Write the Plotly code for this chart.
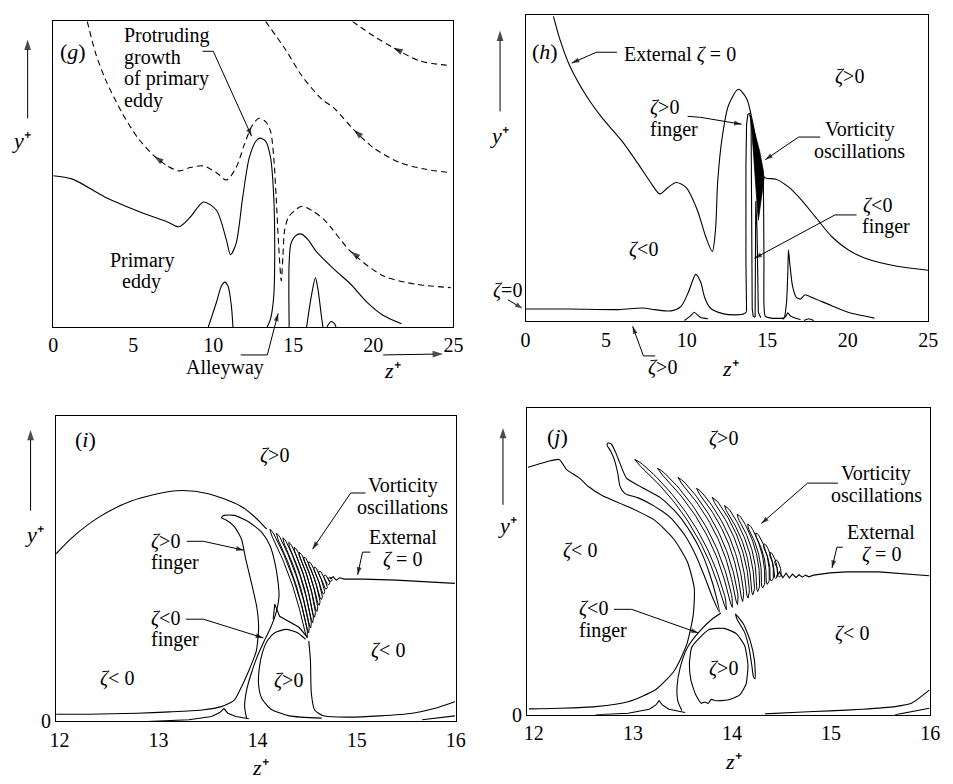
import numpy as np
import plotly.graph_objects as go

W, H = 953, 784
FONT = "Liberation Serif, Times New Roman, serif"

# ================= DATA (z+ horizontal, y+ in arbitrary 0-100 units) =================
# ---- panel (g)
g_eddy_z = [0, 1.21, 3.25, 5.71, 7.14, 7.85, 8.57, 9.39, 10.2, 10.82, 11.08, 11.43, 11.84, 12.25, 12.66, 12.9, 13.27, 13.58, 13.78, 13.84, 13.78, 13.58, 13.37]
g_eddy_y = [49.5, 48.4, 42.5, 37.1, 34.4, 32.8, 36.0, 40.9, 38.2, 28.5, 23.7, 27.4, 42.5, 55.4, 60.8, 61.8, 60.8, 55.4, 42.5, 26.3, 10.2, 2.7, 0]
g_bump_z = [14.74, 14.74, 14.86, 15.21, 15.52, 15.93, 16.44, 17.57, 18.59, 19.61, 20.63, 21.76]
g_bump_y = [0, 21.0, 27.4, 30.1, 30.4, 28.5, 24.7, 18.8, 14.0, 8.1, 3.8, 1.1]
g_peak1_z = [9.69, 10.2, 10.51, 10.72, 10.92, 11.13, 11.23]
g_peak1_y = [0, 8.1, 13.4, 14.7, 13.4, 7.0, 0]
g_peak2_z = [15.83, 16.13, 16.38, 16.54, 16.75, 16.85]
g_peak2_y = [0, 10.2, 16.1, 12.4, 3.8, 0]
g_small_z = [17.1, 17.36, 17.57, 17.67]
g_small_y = [0, 1.8, 1.1, 0]
g_dash1_z = [2.13, 2.64, 3.25, 4.27, 5.3, 6.32, 7.14, 7.85, 8.57, 9.39, 10.2, 10.82, 11.43, 11.94, 12.45, 12.86, 13.27, 13.58, 13.78, 13.93,
             14.09, 14.25, 14.35, 14.46, 14.7, 15.11, 15.52, 16.13, 16.95, 18.59, 20.63, 22.68, 24.83]
g_dash1_y = [100, 89.8, 81.2, 70.4, 61.8, 55.9, 52.7, 51.1, 52.2, 52.7, 50.5, 48.1, 52.2, 59.7, 66.1, 68.3, 67.2, 64.0, 55.4, 42.5,
             26.3, 15.1, 23.1, 31.7, 36.0, 38.2, 39.5, 38.2, 35.0, 24.7, 16.7, 14.0, 12.9]
g_dash2_z = [13.27, 14.5, 15.52, 16.75, 17.57, 18.79, 20.02, 21.66, 23.29, 24.83]
g_dash2_y = [100, 90.9, 82.3, 74.7, 71.5, 64.5, 58.6, 53.8, 51.6, 50.5]
g_dash3_z = [18.69, 20.02, 21.25, 22.88, 24.83]
g_dash3_y = [100, 95.2, 91.4, 87.1, 85.5]

# ---- panel (h)
h_ext_z = [1.73, 2.13, 2.74, 3.76, 4.78, 6.0, 7.01, 7.83, 8.33, 8.84, 9.35, 9.96, 10.67, 11.18, 11.59, 11.79, 11.93, 12.2, 12.6, 13.21,
           13.72, 14.13, 14.43, 14.74, 14.94, 15.55, 16.36, 16.97, 17.99, 19.0, 20.02, 21.04, 23.07, 25.0]
h_ext_y = [99.5, 92.0, 83.4, 73.7, 66.2, 58.7, 51.2, 44.8, 41.6, 43.7, 45.3, 43.7, 36.2, 27.7, 22.8, 29.8, 45.9, 59.8, 70.5, 75.7,
           72.7, 64.1, 55.5, 47.5, 46.7, 46.4, 43.7, 40.5, 34.1, 27.7, 23.4, 20.7, 18.0, 16.7]
h_side_z = [14.76, 14.78, 14.8, 14.8, 14.88, 15.24, 15.96, 16.06, 16.2, 16.28, 16.32, 16.4, 16.57, 16.81, 17.07, 17.34, 17.78, 19.0, 20.02, 21.65]
h_side_y = [46.95, 35.16, 19.08, 5.14, 1.71, 1.07, 1.07, 1.29, 6.22, 15.86, 23.37, 19.08, 11.58, 7.82, 7.29, 8.68, 7.82, 5.14, 3.0, 1.07]
h_low_z = [0, 2.74, 5.79, 7.22, 8.03, 9.04, 9.65, 10.1, 10.57, 10.87, 11.12, 11.48, 12.3, 13.11, 13.56, 13.72]
h_low_y = [4.07, 4.07, 3.86, 4.39, 3.86, 3.43, 4.93, 9.43, 15.33, 12.86, 7.82, 4.29, 2.47, 2.14, 2.47, 3.22]
h_fpos_z = [13.72, 13.68, 13.68, 13.72, 13.8, 13.92, 14.0, 14.02, 14.04, 14.07, 14.13, 14.25]
h_fpos_y = [3.22, 19.08, 51.23, 64.1, 67.52, 67.85, 65.17, 51.23, 19.08, 4.07, 1.71, 1.39]
h_fneg_z = [14.25, 14.25, 14.29, 14.37, 14.45, 14.6]
h_fneg_y = [1.39, 29.8, 39.23, 29.8, 3.0, 1.2]
h_osc_z = [13.94, 14.23, 14.53, 14.76, 14.8, 14.7, 14.57, 14.45, 14.37, 14.27, 14.17, 14.05]
h_osc_y = [67.31, 61.95, 55.52, 49.09, 46.41, 42.66, 38.37, 33.01, 38.37, 44.8, 53.38, 61.95]
h_b1_z = [9.86, 10.22, 10.47, 10.71, 10.87, 11.32]
h_b1_y = [0.32, 1.71, 3.0, 1.93, 1.29, 0.86]
h_b2_z = [15.96, 16.16, 16.28, 16.46, 16.77, 17.07]
h_b2_y = [0.64, 1.71, 2.79, 1.71, 1.07, 0.64]
h_b3_z = [17.28, 17.58, 17.89]
h_b3_y = [0.32, 0.86, 0.32]

# ---- panel (i)
i_arc_z = [11.967, 12.131, 12.392, 12.719, 13.176, 13.503, 13.830, 13.961, 14.092]
i_arc_y = [54.84, 60.22, 66.67, 72.04, 75.48, 74.52, 70.43, 67.2, 62.9]
i_fing_z = [11.967, 12.294, 12.784, 13.111, 13.438, 13.634, 13.765, 13.837, 13.912, 13.987, 14.010, 13.993, 13.935, 13.879, 13.837, 13.765, 13.683,
            13.634, 13.660, 13.765, 13.912, 14.042, 14.124, 14.173, 14.206, 14.216, 14.190, 14.131, 14.059, 13.993, 13.935, 13.889, 13.869, 13.889]
i_fing_y = [2.37, 2.37, 2.69, 3.12, 3.76, 4.84, 6.99, 11.29, 16.67, 23.12, 30.65, 37.1, 45.7, 53.23, 59.68, 63.76, 65.91,
            66.67, 67.42, 67.42, 65.27, 61.83, 57.53, 52.15, 45.7, 40.86, 36.02, 30.65, 25.81, 20.97, 15.59, 10.22, 4.84, 1.08]
i_spike_z = [14.157, 14.173, 14.222, 14.320, 14.418, 14.503]
i_spike_y = [33.33, 38.39, 34.41, 32.5, 30.8, 27.5]
i_inner_z = [14.484, 14.402, 14.288, 14.173, 14.101, 14.049, 14.016, 14.010, 14.042, 14.131, 14.320, 14.647]
i_inner_y = [26.88, 29.03, 30.11, 29.03, 26.56, 22.58, 17.2, 11.83, 7.53, 4.09, 1.83, 1.08]
i_right_z = [14.516, 14.533, 14.542, 14.575, 14.663, 14.908, 15.235, 15.562, 15.791, 15.99]
i_right_y = [26.34, 19.89, 9.14, 3.76, 1.83, 1.4, 1.83, 2.69, 4.3, 6.45]
i_cusp_z = [12.882, 13.307, 13.536, 13.618, 13.660, 13.699, 13.781, 13.912]
i_cusp_y = [0, 0.54, 1.61, 2.9, 4.19, 2.69, 1.61, 0.86]
i_corner_z = [15.66, 15.99]
i_corner_y = [0.54, 1.83]
i_ext_z = [14.729, 14.761, 14.794, 14.827, 14.876, 15.072, 15.399, 15.725, 15.99]
i_ext_y = [46.56, 47.31, 46.24, 46.99, 46.56, 46.56, 46.24, 45.7, 45.16]
i_tip_z = [14.124, 14.190, 14.255, 14.314, 14.369, 14.418, 14.467, 14.516, 14.569, 14.621, 14.673, 14.719]
i_tip_y = [62.9, 61.6, 60.1, 58.6, 57.0, 55.4, 53.8, 52.2, 50.5, 49.1, 47.8, 47.0]
i_base_z = [14.500, 14.516, 14.536, 14.556, 14.575, 14.598, 14.621, 14.644, 14.667, 14.693, 14.719, 14.745]
i_base_y = [27.4, 29.0, 30.6, 32.3, 34.1, 36.0, 38.0, 39.9, 41.7, 43.3, 44.8, 45.9]

# ---- panel (j)
j_left_z = [11.941, 12.131, 12.256, 12.289, 12.328, 12.460, 12.558, 12.690, 12.952, 13.215, 13.412, 13.550, 13.619, 13.609, 13.544, 13.419, 13.232, 12.952, 12.624, 12.263, 11.951]
j_left_y = [80.53, 82.35, 83.1, 81.82, 79.89, 77.01, 74.12, 71.34, 67.7, 63.42, 57.22, 49.73, 41.18, 32.62, 22.99, 14.44, 8.24, 4.28, 2.67, 2.14, 1.93]
j_f1_z = [13.872, 13.800, 13.724, 13.635, 13.527, 13.379, 13.215, 13.054, 12.920, 12.870, 12.847, 12.814, 12.775, 12.739, 12.749,
          12.782, 12.828, 12.880, 12.936, 13.084, 13.281, 13.445, 13.583, 13.691, 13.773, 13.836, 13.872]
j_f1_y = [33.48, 38.5, 44.92, 51.87, 58.29, 64.17, 67.91, 70.59, 71.98, 74.33, 78.61, 82.89, 85.88, 87.7, 88.45,
          88.13, 85.24, 80.96, 77.01, 74.12, 70.59, 65.56, 59.36, 52.94, 45.99, 39.04, 33.48]
j_tip_z = [13.018, 13.248, 13.455, 13.642, 13.800, 13.924, 14.053, 14.158, 14.240, 14.319, 14.384, 14.437]
j_tip_y = [83.1, 80.21, 77.22, 73.69, 70.8, 68.13, 65.24, 62.03, 59.14, 55.61, 52.73, 50.27]
j_base_z = [13.944, 14.003, 14.056, 14.108, 14.161, 14.210, 14.259, 14.309, 14.355, 14.397, 14.440, 14.479]
j_base_y = [34.22, 34.97, 35.83, 36.9, 37.97, 39.04, 40.11, 41.28, 42.46, 43.53, 44.39, 44.92]
j_neg_z = [13.888, 13.806, 13.675, 13.550, 13.478, 13.445, 13.455, 13.494]
j_neg_y = [33.16, 31.34, 27.27, 21.93, 15.51, 9.09, 4.28, 1.39]
j_cusp_z = [12.624, 12.952, 13.166, 13.232, 13.264, 13.297, 13.363, 13.478, 13.527]
j_cusp_y = [0, 0.53, 1.82, 3.21, 4.6, 3.21, 1.82, 1.07, 0.75]
j_loop_z = [13.691, 13.635, 13.586, 13.570, 13.593, 13.675, 13.773, 13.921, 14.043, 14.128, 14.161, 14.141, 14.076, 13.954, 13.833, 13.790, 13.760, 13.727, 13.691]
j_loop_y = [3.74, 6.42, 11.23, 16.58, 21.93, 25.13, 27.81, 28.13, 26.42, 22.46, 16.04, 9.95, 6.42, 4.81, 4.6, 5.03, 3.74, 4.17, 3.74]
j_cres_z = [14.036, 14.118, 14.184, 14.227, 14.233, 14.217, 14.200, 14.174, 14.128, 14.053, 14.036]
j_cres_y = [32.83, 29.41, 24.06, 17.65, 11.76, 12.3, 16.04, 21.39, 26.74, 31.02, 32.83]
j_ext_z = [14.447, 14.479, 14.512, 14.545, 14.578, 14.611, 14.644, 14.677, 14.709, 14.742, 14.775, 14.824, 14.989, 15.153, 15.481, 15.81, 15.99]
j_ext_y = [44.92, 46.52, 44.6, 46.1, 44.6, 45.78, 44.71, 45.56, 44.81, 45.45, 44.92, 45.45, 46.2, 46.52, 46.52, 45.78, 45.24]
j_br_z = [14.332, 14.66, 14.989, 15.317, 15.645, 15.81, 15.99]
j_br_y = [0.32, 0.86, 1.28, 1.82, 2.67, 3.74, 8.02]
j_corner_z = [15.645, 15.99]
j_corner_y = [0, 2.14]

# ================= LAYOUT GEOMETRY (pixel boxes of the four panels) =================
AX = {
    'g': dict(xd=(47, 454.5), yd=(331.7, 21.7), xr=(0, 25), yr=(0, 100), xa='x', ya='y'),
    'h': dict(xd=(528, 938), yd=(326, 15), xr=(0, 25), yr=(0, 100), xa='x2', ya='y2'),
    'i': dict(xd=(50, 457), yd=(731.7, 421.7), xr=(11.967, 16.0), yr=(0, 100), xa='x3', ya='y3'),
    'j': dict(xd=(529.7, 940), yd=(725, 413.3), xr=(11.934, 16.0), yr=(0, 100), xa='x4', ya='y4'),
}


def to_px(a, z, y):
    (x0, x1), (z0, z1) = a['xd'], a['xr']
    (yb, yt), (y0, y1) = a['yd'], a['yr']
    return (x0 + (np.asarray(z) - z0) / (z1 - z0) * (x1 - x0),
            yb + (np.asarray(y) - y0) / (y1 - y0) * (yt - yb))


def to_data(a, px, py):
    (x0, x1), (z0, z1) = a['xd'], a['xr']
    (yb, yt), (y0, y1) = a['yd'], a['yr']
    return (z0 + (px - x0) / (x1 - x0) * (z1 - z0),
            y0 + (py - yb) / (yt - yb) * (y1 - y0))


def finger(a, tip, base, hw, bend):
    p0 = np.array(to_px(a, *tip), dtype=float)
    p2 = np.array(to_px(a, *base), dtype=float)
    d = p2 - p0
    L = np.hypot(*d)
    perp = np.array([d[1], -d[0]]) / L
    c = (p0 + p2) / 2 + bend * L * perp
    t = np.linspace(0, 1, 40)[:, None]
    B = (1 - t) ** 2 * p0 + 2 * (1 - t) * t * c + t ** 2 * p2
    T = 2 * (1 - t) * (c - p0) + 2 * t * (p2 - c)
    n = np.column_stack([-T[:, 1], T[:, 0]]) / np.hypot(T[:, 0], T[:, 1])[:, None]
    tt = t[:, 0]
    w = hw * np.minimum(1, np.sqrt(tt / 0.07)) * np.minimum(1, np.sqrt((1 - tt) / 0.07))
    s1 = B + w[:, None] * n
    s2 = B - w[:, None] * n
    loop = np.vstack([s1, s2[::-1], s1[:1]])
    return to_data(a, loop[:, 0], loop[:, 1])


fig = go.Figure()


def curve(p, z, y, shape='spline', smooth=0.8, dash='solid', width=1.1, fill=None):
    a = AX[p]
    ln = dict(color='black', width=width, dash=dash, shape=shape)
    if shape == 'spline':
        ln['smoothing'] = smooth
    fig.add_trace(go.Scatter(x=list(z), y=list(y), mode='lines', line=ln, xaxis=a['xa'], yaxis=a['ya'],
                             hoverinfo='skip', fill=fill, fillcolor='black' if fill else None))


# ---- (g)
curve('g', g_eddy_z, g_eddy_y)
curve('g', g_bump_z, g_bump_y)
curve('g', g_peak1_z, g_peak1_y)
curve('g', g_peak2_z, g_peak2_y)
curve('g', g_small_z, g_small_y)
for zz, yy in [(g_dash1_z, g_dash1_y), (g_dash2_z, g_dash2_y), (g_dash3_z, g_dash3_y)]:
    curve('g', zz, yy, dash='6px,4px')

# ---- (h)
curve('h', h_ext_z, h_ext_y)
curve('h', h_side_z, h_side_y, smooth=0.6)
curve('h', h_low_z, h_low_y)
curve('h', h_fpos_z, h_fpos_y, shape='linear')
curve('h', h_fneg_z, h_fneg_y, shape='linear')
curve('h', h_osc_z + h_osc_z[:1], h_osc_y + h_osc_y[:1], shape='linear', width=0.8, fill='toself')
for zz, yy in [(h_b1_z, h_b1_y), (h_b2_z, h_b2_y), (h_b3_z, h_b3_y)]:
    curve('h', zz, yy, smooth=0.5)

# ---- (i)
curve('i', i_arc_z, i_arc_y)
curve('i', i_fing_z, i_fing_y, smooth=0.6)
curve('i', i_spike_z, i_spike_y, shape='linear')
curve('i', i_inner_z, i_inner_y, smooth=0.6)
curve('i', i_right_z, i_right_y, smooth=0.6)
curve('i', i_cusp_z, i_cusp_y, shape='linear')
curve('i', i_corner_z, i_corner_y, shape='linear')
curve('i', i_ext_z, i_ext_y, shape='linear')
for k in range(len(i_tip_z)):
    fz, fy = finger(AX['i'], (i_tip_z[k], i_tip_y[k]), (i_base_z[k], i_base_y[k]), 1.5, 0.08)
    curve('i', fz, fy, shape='linear', width=1.0)

# ---- (j)
curve('j', j_left_z, j_left_y, smooth=0.6)
curve('j', j_f1_z, j_f1_y, smooth=0.6)
for k in range(len(j_tip_z)):
    fz, fy = finger(AX['j'], (j_tip_z[k], j_tip_y[k]), (j_base_z[k], j_base_y[k]), 1.7, 0.17)
    curve('j', fz, fy, shape='linear', width=1.0)
curve('j', j_neg_z, j_neg_y, smooth=0.6)
curve('j', j_cusp_z, j_cusp_y, shape='linear')
curve('j', j_loop_z, j_loop_y, smooth=0.5)
curve('j', j_cres_z, j_cres_y, smooth=0.5)
curve('j', j_ext_z, j_ext_y, shape='linear')
curve('j', j_br_z, j_br_y, smooth=0.6)
curve('j', j_corner_z, j_corner_y, shape='linear')

# ================= AXES =================
xticks = {'g': [0, 5, 10, 15, 20, 25], 'h': [0, 5, 10, 15, 20, 25], 'i': [12, 13, 14, 15, 16], 'j': [12, 13, 14, 15, 16]}
layout_axes = {}
for p, a in AX.items():
    xs = 'xaxis' + a['xa'][1:]
    ys = 'yaxis' + a['ya'][1:]
    base = dict(showline=True, linecolor='black', linewidth=1.4, mirror=True, showgrid=False, zeroline=False,
                ticks='', tickfont=dict(family=FONT, size=20, color='black'), fixedrange=True)
    layout_axes[xs] = dict(base, domain=[a['xd'][0] / W, a['xd'][1] / W], range=list(a['xr']),
                           tickvals=xticks[p], ticktext=[str(v) for v in xticks[p]], anchor=a['ya'])
    if p in ('i', 'j'):
        layout_axes[ys] = dict(base, domain=[1 - a['yd'][0] / H, 1 - a['yd'][1] / H], range=list(a['yr']),
                               tickvals=[0], ticktext=['0'], anchor=a['xa'])
    else:
        layout_axes[ys] = dict(base, domain=[1 - a['yd'][0] / H, 1 - a['yd'][1] / H], range=list(a['yr']),
                               showticklabels=False, anchor=a['xa'])
# invisible full-page overlay axes (pixel units) for leader lines and arrows
layout_axes['xaxis5'] = dict(domain=[0, 1], range=[0, W], visible=False, fixedrange=True, anchor='y5')
layout_axes['yaxis5'] = dict(domain=[0, 1], range=[H, 0], visible=False, fixedrange=True, anchor='x5')

# ================= ANNOTATIONS =================
anns = []


def P(px, py):
    return px / W, 1 - py / H


def text(t, px, py, xanchor='center', size=20):
    x, y = P(px, py)
    anns.append(dict(text=t, x=x, y=y, xref='paper', yref='paper', showarrow=False, xanchor=xanchor,
                     yanchor='middle', font=dict(family=FONT, size=size, color='black')))


def leader(pts, head=8, width=1.0):
    xs = [q[0] for q in pts]
    ys = [q[1] for q in pts]
    sizes = [0] * (len(pts) - 1) + [head]
    fig.add_trace(go.Scatter(x=xs, y=ys, mode='lines+markers', xaxis='x5', yaxis='y5', hoverinfo='skip',
                             line=dict(color='black', width=width),
                             marker=dict(symbol='arrow', size=sizes, angleref='previous', color='black',
                                         line=dict(width=0))))


Z = '<i>ζ</i>'
YP = '<i>y</i>⁺'
ZP = '<i>z</i>⁺'
# (g)
text('(<i>g</i>)', 67, 52, size=22)
for s, yy in [('Protruding', 36), ('growth', 58), ('of primary', 80), ('eddy', 102)]:
    text(s, 117, yy, xanchor='left')
leader([(199, 52), (210, 52), (249, 138)])
text('Primary', 137, 264)
text('eddy', 137, 286)
text('Alleyway', 222, 373)
leader([(238, 360), (265, 360), (276, 318)])
text(ZP, 393, 376, size=22)
leader([(383, 360), (444, 359)], head=11)
text(YP, 15, 143, size=22)
leader([(21, 120), (21, 40)], head=11)
# arrowheads on dashed streamlines (placed on the dashed curves' own data points)
for zz, yy, k in [(g_dash1_z, g_dash1_y, 5), (g_dash1_z, g_dash1_y, 29), (g_dash2_z, g_dash2_y, 5), (g_dash3_z, g_dash3_y, 2)]:
    hx, hy = to_px(AX['g'], zz[k], yy[k])
    nx, ny = to_px(AX['g'], zz[k + 1], yy[k + 1])
    dx, dy = nx - hx, ny - hy
    L = np.hypot(dx, dy)
    leader([(float(hx + 8 * dx / L), float(hy + 8 * dy / L)), (float(hx), float(hy))], head=10, width=0.1)

# (h)
text('(<i>h</i>)', 548, 52, size=22)
text('External ' + Z + ' = 0', 626, 55, xanchor='left')
leader([(621, 53), (600, 53), (575, 64)])
text(Z + '&gt;0', 858, 78)
text(Z + '&gt;0', 653, 109, xanchor='left')
text('finger', 653, 131, xanchor='left')
leader([(693, 118), (706, 119), (748, 126)])
text('Vorticity', 868, 131)
text('oscillations', 868, 153)
leader([(828, 139), (806, 139), (772, 162)])
text(Z + '&lt;0', 648, 253)
text(Z + '&lt;0', 870, 208, xanchor='left')
text('finger', 868, 230, xanchor='left')
leader([(865, 218), (843, 218), (761, 262)])
text(Z + '=0', 510, 295)
leader([(510, 304), (525, 313)])
text(Z + '&gt;0', 667, 373)
leader([(660, 361), (648, 361), (637, 331)])
text(ZP, 737, 374, size=22)
text(YP, 501, 137, size=22)
leader([(502, 113), (502, 31)], head=11)

# (i)
text('(<i>i</i>)', 80, 446, size=22)
text(Z + '&gt;0', 272, 462)
text('Vorticity', 403, 492)
text('oscillations', 403, 514)
leader([(365, 500), (350, 500), (311, 557)])
text('External', 403, 545)
text(Z + ' = 0', 403, 567)
leader([(370, 560), (362, 560), (357, 583)])
text(Z + '&gt;0', 145, 549, xanchor='left')
text('finger', 145, 571, xanchor='left')
leader([(183, 549), (200, 549), (241, 558)])
text(Z + '&lt;0', 145, 627, xanchor='left')
text('finger', 145, 649, xanchor='left')
leader([(182, 628), (200, 628), (261, 647)])
text(Z + '&lt; 0', 112, 688)
text(Z + '&gt;0', 287, 690)
text(Z + '&lt; 0', 388, 660)
text(YP, 28, 542, size=22)
leader([(24, 518), (24, 436)], head=11)
text(ZP, 258, 778, size=22)

# (j)
text('(<i>j</i>)', 561, 443, size=22)
text(Z + '&gt;0', 730, 445)
text('Vorticity', 885, 480)
text('oscillations', 885, 502)
leader([(846, 490), (815, 490), (768, 531)])
text('External', 890, 540)
text(Z + ' = 0', 890, 562)
leader([(851, 555), (845, 555), (840, 576)])
text(Z + '&lt; 0', 583, 558)
text(Z + '&lt;0', 580, 617, xanchor='left')
text('finger', 580, 639, xanchor='left')
leader([(618, 618), (636, 618), (704, 642)])
text(Z + '&gt;0', 730, 678)
text(Z + '&lt; 0', 860, 643)
text(YP, 510, 533, size=22)
leader([(505, 512), (505, 434)], head=11)
text(ZP, 740, 772, size=22)

fig.update_layout(width=W, height=H, margin=dict(l=0, r=0, t=0, b=0), paper_bgcolor='white',
                  plot_bgcolor='rgba(0,0,0,0)', showlegend=False, annotations=anns,
                  font=dict(family=FONT, size=20, color='black'), **layout_axes)
fig.write_html("out.html")
